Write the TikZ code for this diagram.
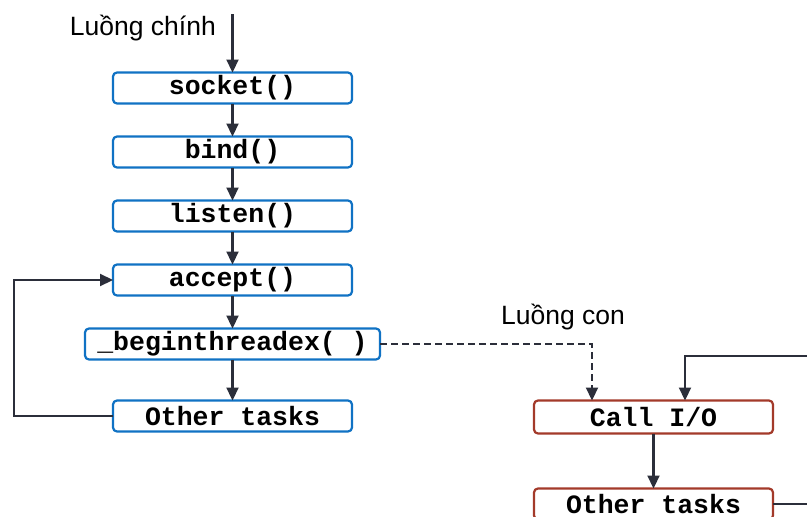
\documentclass[tikz,border=0pt]{standalone}
\usepackage{fontspec}
\setmainfont{Liberation Sans}
\setmonofont{Liberation Mono}
\usetikzlibrary{arrows.meta}
\definecolor{bluebox}{RGB}{16,114,196}
\definecolor{redbox}{RGB}{163,58,42}
\definecolor{arrowc}{RGB}{43,46,58}
\tikzset{
  bbox/.style={draw=bluebox, line width=2.2pt, rounded corners=4pt, fill=white,
    minimum width=239pt, minimum height=31pt, inner sep=0pt, outer sep=0pt,
    font=\fontsize{26.5}{26.5}\selectfont\ttfamily\bfseries},
  rbox/.style={bbox, draw=redbox},
  conn/.style={draw=arrowc, line width=2.2pt, -{Triangle[length=13pt,width=12pt]}},
  lbl/.style={font=\fontsize{26.5}{26.5}\selectfont, inner sep=0pt}
}
\begin{document}
\begin{tikzpicture}[x=1pt,y=-1pt]
\clip (0,0) rectangle (807,517);
\fill[white] (0,0) rectangle (807,517);
\node[bbox] (socket) at (232.5,88) {socket()};
\node[bbox] (bind) at (232.5,152) {bind()};
\node[bbox] (listen) at (232.5,216) {listen()};
\node[bbox] (accept) at (232.5,280) {accept()};
\node[bbox, minimum width=295pt] (begin) at (232.5,344) {\_beginthreadex(~)};
\node[bbox] (other) at (232.5,416) {Other tasks};
\node[rbox, minimum height=33pt] (callio) at (653.5,417) {Call I/O};
\node[rbox] (other2) at (653.5,504) {Other tasks};
\node[lbl, anchor=east] (mainlbl) at (216,28) {Luồng chính};
\node[lbl] (sublbl) at (563,317) {Luồng con};
\coordinate (start) at (232.5,14);
\coordinate (lb) at (14,416);
\coordinate (lt) at (14,280);
\coordinate (dr) at (592,344);
\coordinate (rr) at (830,504);
\coordinate (rt) at (830,356);
\coordinate (ct) at (685,356);
\draw[conn] (start) -- (socket.north);
\draw[conn] (socket) -- (bind);
\draw[conn] (bind) -- (listen);
\draw[conn] (listen) -- (accept);
\draw[conn] (accept) -- (begin);
\draw[conn] (begin) -- (other);
\draw[conn] (other.west) -- (lb) -- (lt) -- (accept.west);
\draw[conn, dash pattern=on 7pt off 4pt] (begin.east) -- (dr) -- (dr |- callio.north);
\draw[conn] (callio) -- (other2);
\draw[conn] (other2.east) -- (rr) -- (rt) -- (ct) -- (ct |- callio.north);
\end{tikzpicture}
\end{document}
